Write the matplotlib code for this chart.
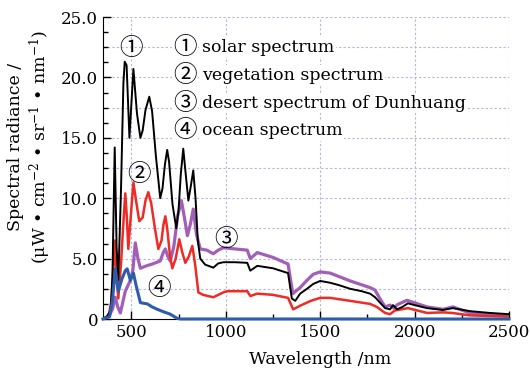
#!/usr/bin/env python3
"""Spectral radiance of four typical ground targets."""

import matplotlib

matplotlib.use("Agg")
import matplotlib.pyplot as plt
from matplotlib.ticker import MultipleLocator

# solar spectrum (black)
wl_solar = [350, 370, 390, 400, 412, 422, 431, 445, 458, 465, 475, 490, 511, 530,
            548, 560, 575, 595, 610, 630, 653, 665, 678, 690, 700, 718, 738, 750,
            762, 775, 788, 802, 815, 828, 840, 852, 865, 891, 934, 960, 987, 1050,
            1114, 1130, 1167, 1250, 1330, 1350, 1368, 1394, 1430, 1463, 1500, 1553,
            1600, 1659, 1720, 1764, 1791, 1820, 1844, 1870, 1886, 1907, 1935, 1965,
            2000, 2066, 2150, 2203, 2293, 2400, 2500]
solar = [0, 0.2, 0.7, 3.5, 14.2, 6.0, 3.2, 10.5, 19.5, 21.3, 21.0, 15.0, 20.7, 17.0,
         15.0, 15.6, 17.3, 18.4, 17.2, 13.5, 10.0, 10.8, 12.8, 14.0, 13.0, 9.5, 7.5, 9.0,
         12.0, 14.1, 12.0, 9.8, 11.0, 12.3, 10.0, 6.5, 5.0, 4.5, 4.25, 4.6, 4.7, 4.7,
         4.65, 4.0, 4.4, 4.2, 3.8, 1.7, 1.5, 2.1, 2.5, 2.9, 3.15, 3.0,
         2.8, 2.5, 2.3, 2.1, 1.8, 1.3, 0.9, 0.8, 1.15, 0.8, 1.0, 1.3,
         1.15, 0.9, 0.75, 0.9, 0.65, 0.5, 0.4]

# vegetation spectrum (red)
wl_veg = [350, 380, 395, 412, 422, 431, 445, 458, 468, 476, 484, 497, 511, 525, 542,
          560, 575, 590, 605, 625, 643, 660, 670, 680, 690, 705, 717, 735, 754, 770,
          786, 805, 823, 838, 855, 880, 934, 987, 1008, 1114, 1130, 1167, 1250, 1330,
          1357, 1394, 1450, 1500, 1553, 1659, 1764, 1800, 1844, 1870, 1895, 1965,
          2066, 2150, 2200, 2293, 2500]
veg = [0, 0.3, 1.5, 6.5, 3.5, 1.7, 4.5, 8.0, 10.4, 8.5, 5.8, 8.5, 11.3, 9.8, 8.1,
       8.4, 9.8, 10.5, 9.6, 7.5, 5.8, 6.5, 7.8, 8.5, 7.5, 5.2, 4.2, 5.0, 6.6, 5.5,
       4.65, 5.2, 6.05, 4.5, 2.2, 2.0, 1.8, 2.2, 2.3, 2.3, 1.9, 2.1, 2.0, 1.75,
       0.8, 1.1, 1.5, 1.75, 1.75, 1.5, 1.25, 1.0, 0.5, 0.4, 0.7, 0.9,
       0.5, 0.55, 0.5, 0.3, 0.2]

# desert spectrum of Dunhuang (purple)
wl_desert = [350, 380, 400, 415, 428, 442, 468, 495, 508, 521, 535, 548, 580, 611,
             653, 669, 680, 693, 706, 725, 745, 765, 780, 797, 812, 828, 845, 865,
             900, 934, 960, 987, 1050, 1114, 1130, 1167, 1250, 1330, 1355, 1394, 1430,
             1463, 1500, 1553, 1659, 1764, 1790, 1820, 1844, 1870, 1890, 1910, 1960,
             2066, 2150, 2203, 2293, 2500]
desert = [0, 0.2, 0.8, 1.8, 1.0, 0.5, 2.3, 3.2, 4.0, 6.3, 5.0, 4.2, 4.4, 4.55,
          4.8, 5.5, 5.8, 5.2, 4.8, 6.0, 8.5, 9.8, 8.5, 6.9, 7.8, 9.1, 7.0, 5.8,
          5.7, 5.4, 5.7, 5.9, 5.8, 5.7, 5.0, 5.5, 5.1, 4.55, 2.1, 2.6, 3.2,
          3.7, 3.9, 3.8, 3.15, 2.6, 2.4, 1.6, 1.0, 1.15, 0.9, 1.2, 1.55,
          1.0, 0.8, 1.0, 0.5, 0.3]

# ocean spectrum (blue)
wl_ocean = [350, 385, 400, 415, 431, 450, 468, 478, 495, 511, 525, 548, 585, 610,
            638, 670, 706, 743, 760, 2500]
ocean = [0, 0.2, 1.5, 4.15, 2.3, 3.3, 4.0, 4.15, 3.2, 3.8, 2.8, 1.35, 1.25, 1.0,
         0.8, 0.6, 0.4, 0.05, 0, 0]

marks = ["①", "②", "③", "④"]
labels = ["solar spectrum", "vegetation spectrum",
          "desert spectrum of Dunhuang", "ocean spectrum"]
FONT = ["DejaVu Serif", "DejaVu Sans", "Noto Sans CJK SC"]
CIRCLE_FONT = ["Noto Sans CJK SC", "DejaVu Sans"]

plt.rcParams["font.family"] = FONT
plt.rcParams["mathtext.fontset"] = "dejavuserif"

fig = plt.figure(figsize=(5.3, 3.76), dpi=100)
ax = fig.add_axes([103 / 530, 1 - 319 / 376, 406 / 530, 302 / 376])

ax.plot(wl_desert, desert, color="#a25fb8", lw=2.3, zorder=3)
ax.plot(wl_veg, veg, color="#ee2b25", lw=1.8, zorder=4)
ax.plot(wl_solar, solar, color="black", lw=1.4, zorder=5)
ax.plot(wl_ocean, ocean, color="#2c5cab", lw=2.2, zorder=6, clip_on=False)

ax.set_xlim(350, 2500)
ax.set_ylim(0, 25)
ax.xaxis.set_major_locator(MultipleLocator(500))
ax.xaxis.set_minor_locator(MultipleLocator(250))
ax.yaxis.set_minor_locator(MultipleLocator(1.25))
ax.set_yticks([0, 5, 10, 15, 20, 25], ["0", "5.0", "10.0", "15.0", "20.0", "25.0"])
ax.tick_params(which="both", direction="in", labelsize=12, width=1)
ax.tick_params(which="major", length=6)
ax.tick_params(which="minor", length=3.5)
for side in ("top", "right"):
    ax.spines[side].set_visible(False)

grid_kw = dict(color="#b4b4e0", lw=0.8, ls=(0, (2, 2)), zorder=1)
for v in [500, 1000, 1500, 2000, 2500]:
    ax.axvline(v, **grid_kw)
for h in [2.5 * i for i in range(1, 11)]:
    ax.axhline(h, **grid_kw)

# curve markers
mark_pos = [(500, 22.4), (540, 12.0), (1000, 6.6), (645, 2.5)]
for m, (x, y) in zip(marks, mark_pos):
    ax.text(x, y, m, fontsize=17, ha="center", va="center", zorder=7,
            family=CIRCLE_FONT)

# text legend
for i, (m, lab) in enumerate(zip(marks, labels)):
    y = 1 - (47 + 28 * i) / 376
    fig.text(185 / 530, y, m, fontsize=17, ha="center", va="center", zorder=8,
             family=CIRCLE_FONT,
             bbox=dict(facecolor="white", edgecolor="none", pad=0.5))
    fig.text(202 / 530, y, lab, fontsize=12.5, ha="left", va="center", zorder=8,
             bbox=dict(facecolor="white", edgecolor="none", pad=1))

fig.text(320 / 530, 1 - 360 / 376, "Wavelength /nm", fontsize=12.5,
         ha="center", va="center")
fig.text(30 / 530, 1 - 147 / 376,
         "Spectral radiance /\n(μW • cm$^{-2}$ • sr$^{-1}$ • nm$^{-1}$)",
         fontsize=12.5, rotation=90, ha="center", va="center",
         multialignment="center")

fig.savefig("out.png", dpi=100)
